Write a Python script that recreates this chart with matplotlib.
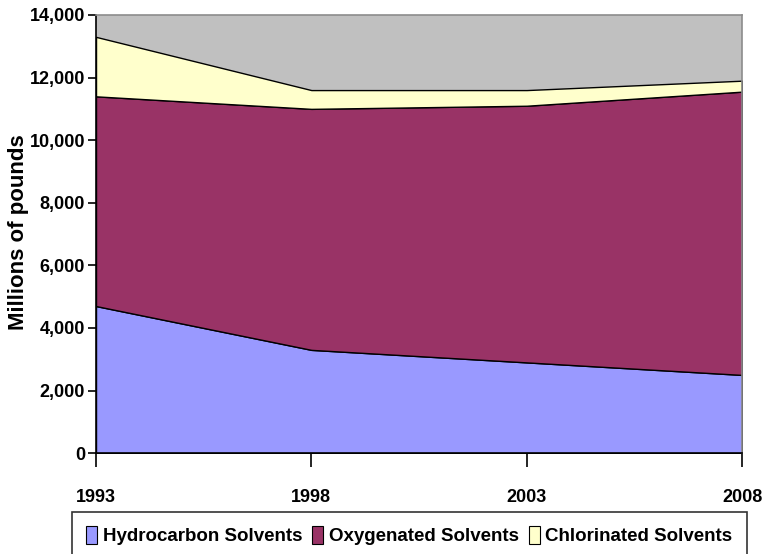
import matplotlib
matplotlib.use("Agg")
import matplotlib.pyplot as plt
from matplotlib.patches import Patch
from matplotlib.ticker import FuncFormatter

years = [1993, 1998, 2003, 2008]
hydrocarbon = [4700, 3300, 2900, 2500]
oxygenated = [6700, 7700, 8200, 9050]
chlorinated = [1900, 600, 500, 350]
series_names = ["Hydrocarbon Solvents", "Oxygenated Solvents", "Chlorinated Solvents"]
colors = ["#9999FF", "#993366", "#FFFFCC"]
y_ticks = [0, 2000, 4000, 6000, 8000, 10000, 12000, 14000]

font = ["Liberation Sans Narrow", "Liberation Sans", "DejaVu Sans"]
plt.rcParams["font.family"] = font

fig = plt.figure(figsize=(7.65, 5.54), dpi=100)
ax = fig.add_axes([0.1255, 0.182, 0.8445, 0.791])
ax.set_facecolor("#C0C0C0")

ax.stackplot(years, hydrocarbon, oxygenated, chlorinated, colors=colors,
             edgecolor="black", linewidth=1.0)

ax.set_xlim(years[0], years[-1])
ax.set_ylim(0, 14000)
ax.set_xticks(years)
ax.set_yticks(y_ticks)
ax.yaxis.set_major_formatter(FuncFormatter(lambda v, p: f"{int(v):,}"))

for side in ["top", "right"]:
    ax.spines[side].set_color("#8C8C8C")
    ax.spines[side].set_linewidth(1.2)
for side in ["left", "bottom"]:
    ax.spines[side].set_color("black")
    ax.spines[side].set_linewidth(1.2)

ax.tick_params(axis="y", direction="out", length=6, width=1.2, pad=2, labelsize=13)
ax.tick_params(axis="x", direction="out", length=10, width=1.2, pad=16, labelsize=13)
for lab in ax.get_xticklabels() + ax.get_yticklabels():
    lab.set_fontweight("bold")

ax.set_ylabel("Millions of pounds", fontsize=16, fontweight="bold",
              family=["Liberation Sans", "DejaVu Sans"])
ax.yaxis.set_label_coords(-0.104, 0.505)

handles = [Patch(facecolor=c, edgecolor="black", linewidth=0.8) for c in colors]
leg = fig.legend(handles, series_names, loc="upper left",
                 bbox_to_anchor=(0.094, 0.076, 0.882, 0.0), mode="expand",
                 ncol=3, frameon=True, fancybox=False, borderaxespad=0,
                 handlelength=0.6, handleheight=1.1, handletextpad=0.3,
                 columnspacing=0.8, borderpad=0.75,
                 prop={"size": 13.5, "weight": "bold", "family": font})
leg.get_frame().set_edgecolor("black")
leg.get_frame().set_linewidth(1.2)

fig.savefig("out.png", dpi=100)
